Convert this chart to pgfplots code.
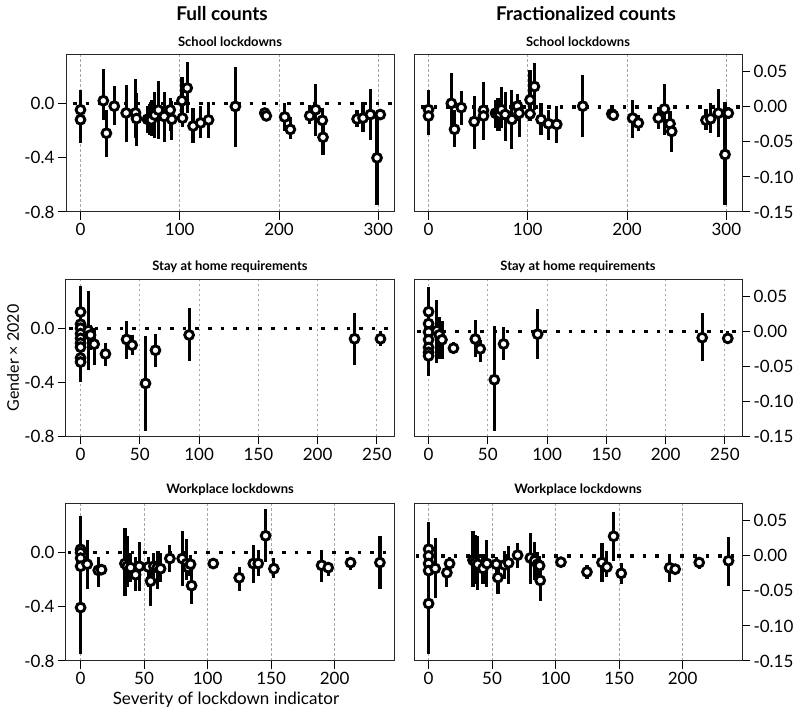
\documentclass[border=0pt]{standalone}
\usepackage{fontspec}
\setmainfont{Lato}
\usepackage{pgfplots}
\usepackage{pgfplotstable}
\pgfplotsset{compat=1.18}

\pgfplotstableread{
x y lo hi
0 -0.045 -0.20 0.10
0 -0.118 -0.29 0.05
23 0.022 -0.12 0.26
26.1 -0.218 -0.39 -0.05
34 -0.018 -0.16 0.13
46 -0.068 -0.28 0.14
55.4 -0.068 -0.25 0.18
56.4 -0.11 -0.315 0.08
67.5 -0.115 -0.22 -0.02
69.5 -0.118 -0.23 0.00
71.4 -0.12 -0.24 0.03
74.8 -0.084 -0.25 0.09
78.5 -0.047 -0.26 0.17
84.3 -0.094 -0.28 0.09
90.4 -0.046 -0.20 0.04
92 -0.115 -0.27 0.02
102.2 0.022 -0.12 0.20
102.7 -0.106 -0.17 0.04
107.5 0.116 -0.07 0.31
113.4 -0.165 -0.29 -0.03
121 -0.142 -0.25 -0.02
129 -0.12 -0.25 0.01
156 -0.02 -0.32 0.27
185.6 -0.069 -0.10 -0.04
187.2 -0.09 -0.11 -0.07
205.7 -0.098 -0.20 0.005
211.4 -0.19 -0.26 -0.10
230.9 -0.089 -0.15 -0.01
236.9 -0.044 -0.24 0.148
243.6 -0.123 -0.22 -0.03
244.3 -0.248 -0.376 -0.12
278.6 -0.113 -0.17 -0.05
284.6 -0.106 -0.21 0.01
292 -0.08 -0.27 0.108
298.7 -0.40 -0.745 -0.08
302 -0.08 -0.11 -0.05
}\schoolfull

\pgfplotstableread{
x y lo hi
0 -0.004 -0.02 0.024
0 -0.013 -0.04 0.012
23 0.005 -0.03 0.049
26.2 -0.032 -0.057 -0.005
33 -0.001 -0.026 0.023
46 -0.021 -0.06 0.015
55.4 -0.005 -0.03 0.036
55.4 -0.013 -0.047 0.01
67.5 -0.009 -0.03 0.01
69.5 -0.010 -0.035 0.012
71.5 -0.010 -0.035 0.012
73.5 -0.004 -0.03 0.029
77.2 -0.011 -0.048 0.021
84 -0.018 -0.06 0.024
89.6 0.001 -0.02 0.019
91.3 -0.009 -0.043 0.01
102.3 0.010 -0.01 0.052
102.3 -0.010 -0.02 0.005
106.7 0.029 -0.005 0.063
113.4 -0.018 -0.04 0.005
120.8 -0.024 -0.047 -0.005
129.2 -0.025 -0.052 0.001
155.4 0.001 -0.043 0.045
184.6 -0.010 -0.014 -0.006
186.2 -0.012 -0.015 -0.009
205.7 -0.016 -0.044 0.01
211.4 -0.023 -0.035 -0.012
231.5 -0.016 -0.031 0.0
237.6 -0.003 -0.04 0.033
243.3 -0.024 -0.04 -0.006
245 -0.035 -0.064 -0.02
279.5 -0.019 -0.033 -0.003
284.2 -0.017 -0.038 0.005
292 -0.009 -0.043 0.026
298.7 -0.068 -0.14 0.007
302 -0.009 -0.017 0.0
}\schoolfrac

\pgfplotstableread{
x y lo hi
0 0.12 -0.05 0.31
0 0.03 -0.10 0.16
0 0.0 -0.12 0.12
0 -0.04 -0.18 0.10
0 -0.075 -0.20 0.05
0 -0.11 -0.25 0.03
0 -0.14 -0.28 0.0
0 -0.22 -0.35 -0.09
0 -0.25 -0.40 -0.10
6.5 -0.018 -0.31 0.275
8.4 -0.05 -0.16 0.025
11.5 -0.118 -0.27 0.0
21 -0.19 -0.28 -0.11
38.8 -0.083 -0.225 0.055
43.5 -0.125 -0.20 -0.05
54.8 -0.408 -0.758 -0.055
63.2 -0.163 -0.29 -0.04
91.6 -0.05 -0.243 0.15
231.2 -0.078 -0.27 0.113
253.1 -0.078 -0.13 -0.02
}\stayfull

\pgfplotstableread{
x y lo hi
0 0.028 -0.005 0.063
0 0.011 -0.015 0.04
0 -0.001 -0.02 0.02
0 -0.012 -0.035 0.01
0 -0.023 -0.045 0.0
0 -0.03 -0.055 -0.005
0 -0.035 -0.064 -0.01
7 0.001 -0.045 0.045
9 -0.005 -0.04 0.02
11.3 -0.012 -0.04 0.015
21 -0.024 -0.032 -0.015
39.4 -0.011 -0.037 0.016
43.6 -0.025 -0.043 -0.013
55.5 -0.069 -0.142 0.007
63.3 -0.018 -0.041 0.006
92 -0.004 -0.04 0.032
230.9 -0.009 -0.042 0.026
252.5 -0.010 -0.018 0.0
}\stayfrac

\pgfplotstableread{
x y lo hi
0 0.025 -0.10 0.27
0 0.0 -0.10 0.10
0 -0.04 -0.15 0.07
0 -0.10 -0.20 0.0
0 -0.405 -0.75 -0.075
5.2 -0.085 -0.27 0.095
13.9 -0.13 -0.255 -0.03
16.5 -0.125 -0.16 -0.09
34.9 -0.08 -0.32 0.18
36.7 -0.10 -0.255 0.12
39.4 -0.11 -0.22 0.0
43.3 -0.163 -0.28 -0.03
46.2 -0.10 -0.28 0.08
53.3 -0.105 -0.255 -0.03
55.1 -0.21 -0.39 -0.08
57.7 -0.10 -0.20 0.0
60.4 -0.11 -0.27 0.0
63 -0.118 -0.22 0.0
70.3 -0.043 -0.14 0.06
80 -0.043 -0.243 0.158
83.5 -0.08 -0.20 0.10
84.8 -0.11 -0.17 -0.05
86.6 -0.085 -0.15 -0.02
87.4 -0.243 -0.38 -0.13
104.5 -0.08 -0.10 -0.06
124.9 -0.185 -0.28 -0.105
136 -0.08 -0.225 0.058
139.9 -0.08 -0.17 0.02
145.7 0.125 -0.068 0.32
152.2 -0.118 -0.19 -0.04
189.8 -0.093 -0.217 0.02
195 -0.11 -0.17 -0.07
212.6 -0.073 -0.13 -0.03
235.7 -0.073 -0.268 0.12
}\workfull

\pgfplotstableread{
x y lo hi
0 0.0095 -0.02 0.049
0 0.0 -0.02 0.02
0 -0.011 -0.03 0.01
0 -0.021 -0.045 0.0
0 -0.068 -0.14 -0.007
5.2 -0.018 -0.06 0.026
14.4 -0.024 -0.045 -0.01
16.5 -0.011 -0.019 -0.002
34.9 -0.006 -0.045 0.036
36.7 -0.009 -0.04 0.03
38.6 -0.012 -0.048 0.028
42.8 -0.018 -0.04 0.002
45.9 -0.011 -0.044 0.022
53.3 -0.012 -0.024 -0.002
54.6 -0.031 -0.055 -0.014
59.8 -0.013 -0.033 0.007
63 -0.010 -0.04 0.014
70.1 0.001 -0.017 0.019
80.1 -0.003 -0.04 0.033
83.5 -0.007 -0.035 0.02
85.8 -0.012 -0.03 0.005
87.4 -0.014 -0.03 0.0
87.9 -0.035 -0.064 -0.017
104.2 -0.009 -0.016 -0.002
124.7 -0.023 -0.033 -0.013
136.5 -0.0095 -0.037 0.018
140.4 -0.016 -0.03 0.007
145.7 0.028 -0.007 0.063
151.7 -0.025 -0.04 -0.01
189.8 -0.017 -0.038 0.002
194.2 -0.019 -0.026 -0.012
213.1 -0.0095 -0.019 -0.002
236.2 -0.007 -0.043 0.027
}\workfrac

\pgfplotsset{
  panel/.style={
    scale only axis, width=328pt, height=157pt,
    anchor=south west,
    axis line style={line width=1pt, black!85},
    tick align=outside, major tick length=8pt,
    every tick/.style={black, line width=1pt},
    xmajorgrids,
    grid style={black!35, dash pattern=on 2.5pt off 2.5pt, line width=0.9pt},
    ticklabel style={font=\fontsize{17}{18}\selectfont},
    xtick pos=left,
  },
  leftpanel/.style={panel, ytick pos=left,
    ymin=-0.8, ymax=0.36, ytick={-0.8,-0.4,0}, yticklabels={-0.8,-0.4,0.0}},
  rightpanel/.style={panel, ytick pos=right, yticklabel pos=right,
    ymin=-0.15, ymax=0.074, ytick={-0.15,-0.1,-0.05,0,0.05},
    yticklabels={-0.15,-0.10,-0.05,0.00,0.05}},
  row1/.style={xmin=-14.6, xmax=315.8, xtick={0,100,200,300}, xticklabels={0,100,200,300}},
  row2/.style={xmin=-12.3, xmax=264.5, xtick={0,50,100,150,200,250}, xticklabels={0,50,100,150,200,250}},
  row3/.style={xmin=-11.5, xmax=246.8, xtick={0,50,100,150,200}, xticklabels={0,50,100,150,200}},
}

\newcommand{\zeroline}{\addplot[forget plot, black, line width=3.3pt, dash pattern=on 3.6pt off 9pt, line cap=butt] coordinates {(-20,0) (330,0)};}
\newcommand{\points}[1]{%
  \addplot[forget plot, only marks, mark=none,
    error bars/.cd, y dir=both, y explicit, error mark=none,
    error bar style={draw=black, solid, line width=3.2pt}]
    table[x=x, y=y, y error plus expr=\thisrow{hi}-\thisrow{y}, y error minus expr=\thisrow{y}-\thisrow{lo}] {#1};
  \addplot[forget plot, only marks, mark=*, mark size=4.4pt,
    mark options={fill=white, draw=black, line width=2.9pt}]
    table[x=x, y=y] {#1};
}

\begin{document}
\begin{tikzpicture}[x=1pt, y=1pt]
\path[use as bounding box] (0,0) rectangle (798,712);

\begin{axis}[leftpanel, row1, at={(66pt,500pt)}]
\zeroline \points{\schoolfull}
\end{axis}
\begin{axis}[rightpanel, row1, at={(414pt,500pt)}]
\zeroline \points{\schoolfrac}
\end{axis}
\begin{axis}[leftpanel, row2, at={(66pt,275.5pt)}]
\zeroline \points{\stayfull}
\end{axis}
\begin{axis}[rightpanel, row2, at={(414pt,275.5pt)}]
\zeroline \points{\stayfrac}
\end{axis}
\begin{axis}[leftpanel, row3, at={(66pt,51pt)}]
\zeroline \points{\workfull}
\end{axis}
\begin{axis}[rightpanel, row3, at={(414pt,51pt)}]
\zeroline \points{\workfrac}
\end{axis}

\node[font=\fontsize{19}{22}\selectfont\bfseries] at (222,698) {Full counts};
\node[font=\fontsize{19}{22}\selectfont\bfseries] at (586,698) {Fractionalized counts};

\node[font=\fontsize{13}{15}\selectfont\bfseries] at (230,670) {School lockdowns};
\node[font=\fontsize{13}{15}\selectfont\bfseries] at (578,670) {School lockdowns};
\node[font=\fontsize{13}{15}\selectfont\bfseries] at (230,445) {Stay at home requirements};
\node[font=\fontsize{13}{15}\selectfont\bfseries] at (578,445) {Stay at home requirements};
\node[font=\fontsize{13}{15}\selectfont\bfseries] at (230,222) {Workplace lockdowns};
\node[font=\fontsize{13}{15}\selectfont\bfseries] at (578,222) {Workplace lockdowns};

\node[font=\fontsize{16}{18}\selectfont, rotate=90] at (13,354) {Gender × 2020};
\node[font=\fontsize{17}{19}\selectfont] at (226,12) {Severity of lockdown indicator};
\end{tikzpicture}
\end{document}
